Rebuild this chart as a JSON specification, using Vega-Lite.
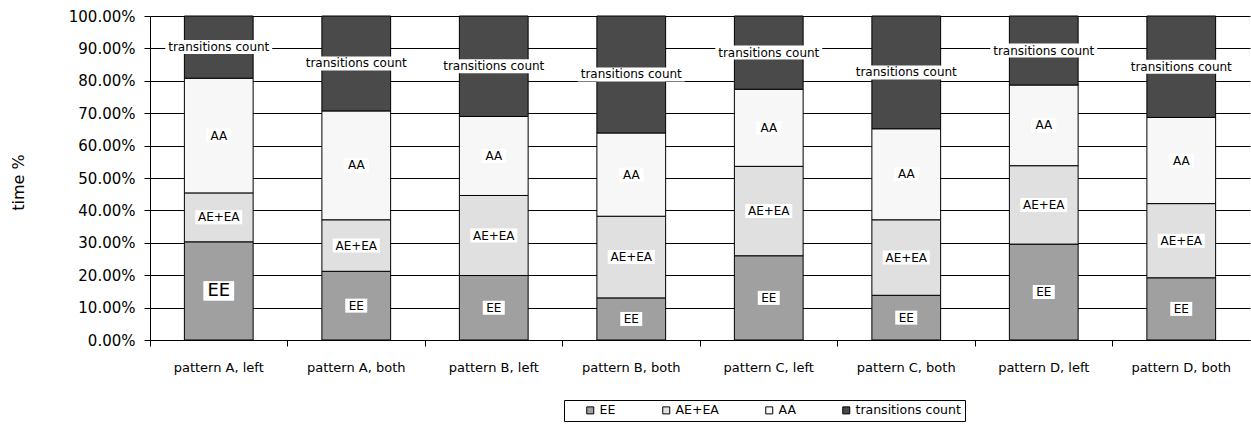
{
  "$schema": "https://vega.github.io/schema/vega-lite/v6.json",
  "width": 1100,
  "height": 324,
  "autosize": {"type": "none"},
  "padding": {"left": 150, "top": 16, "right": 1, "bottom": 86},
  "background": "white",
  "config": {
    "view": {"stroke": null},
    "font": "DejaVu Sans",
    "axis": {"labelFont": "DejaVu Sans", "titleFont": "DejaVu Sans", "labelColor": "#000", "titleColor": "#000", "domainColor": "#000", "tickColor": "#000", "titleFontWeight": "normal"},
    "legend": {"labelFont": "DejaVu Sans", "labelColor": "#000"}
  },
  "data": {
    "values": [
      {"pattern": "pattern A, left", "series": "EE", "value": 0.303},
      {"pattern": "pattern A, left", "series": "AE+EA", "value": 0.151},
      {"pattern": "pattern A, left", "series": "AA", "value": 0.354},
      {"pattern": "pattern A, left", "series": "transitions count", "value": 0.192},
      {"pattern": "pattern A, both", "series": "EE", "value": 0.212},
      {"pattern": "pattern A, both", "series": "AE+EA", "value": 0.159},
      {"pattern": "pattern A, both", "series": "AA", "value": 0.336},
      {"pattern": "pattern A, both", "series": "transitions count", "value": 0.293},
      {"pattern": "pattern B, left", "series": "EE", "value": 0.199},
      {"pattern": "pattern B, left", "series": "AE+EA", "value": 0.247},
      {"pattern": "pattern B, left", "series": "AA", "value": 0.244},
      {"pattern": "pattern B, left", "series": "transitions count", "value": 0.310},
      {"pattern": "pattern B, both", "series": "EE", "value": 0.130},
      {"pattern": "pattern B, both", "series": "AE+EA", "value": 0.252},
      {"pattern": "pattern B, both", "series": "AA", "value": 0.257},
      {"pattern": "pattern B, both", "series": "transitions count", "value": 0.361},
      {"pattern": "pattern C, left", "series": "EE", "value": 0.260},
      {"pattern": "pattern C, left", "series": "AE+EA", "value": 0.276},
      {"pattern": "pattern C, left", "series": "AA", "value": 0.238},
      {"pattern": "pattern C, left", "series": "transitions count", "value": 0.226},
      {"pattern": "pattern C, both", "series": "EE", "value": 0.138},
      {"pattern": "pattern C, both", "series": "AE+EA", "value": 0.233},
      {"pattern": "pattern C, both", "series": "AA", "value": 0.281},
      {"pattern": "pattern C, both", "series": "transitions count", "value": 0.348},
      {"pattern": "pattern D, left", "series": "EE", "value": 0.296},
      {"pattern": "pattern D, left", "series": "AE+EA", "value": 0.242},
      {"pattern": "pattern D, left", "series": "AA", "value": 0.249},
      {"pattern": "pattern D, left", "series": "transitions count", "value": 0.213},
      {"pattern": "pattern D, both", "series": "EE", "value": 0.192},
      {"pattern": "pattern D, both", "series": "AE+EA", "value": 0.229},
      {"pattern": "pattern D, both", "series": "AA", "value": 0.266},
      {"pattern": "pattern D, both", "series": "transitions count", "value": 0.313}
    ]
  },
  "transform": [
    {"calculate": "indexof(['EE','AE+EA','AA','transitions count'], datum.series)", "as": "ord"},
    {"stack": "value", "groupby": ["pattern"], "sort": [{"field": "ord", "order": "ascending"}], "as": ["v0", "v1"]},
    {"calculate": "(datum.v0 + datum.v1) / 2", "as": "mid"},
    {"calculate": "datum.series", "as": "lbl"}
  ],
  "encoding": {
    "x": {
      "field": "pattern",
      "type": "nominal",
      "sort": null,
      "scale": {"paddingInner": 0.5, "paddingOuter": 0.25},
      "axis": {"title": null, "labelAngle": 0, "labelFontSize": 13, "labelPadding": 15, "tickSize": 6, "bandPosition": -0.5, "domainWidth": 1, "tickWidth": 1}
    }
  },
  "resolve": {"scale": {"shape": "independent"}, "legend": {"shape": "independent"}},
  "layer": [
    {
      "mark": {"type": "bar", "stroke": "#000", "strokeWidth": 1, "opacity": 1},
      "encoding": {
        "y": {
          "field": "v0",
          "type": "quantitative",
          "scale": {"domain": [0, 1]},
          "axis": {
            "title": "time %",
            "titleFontSize": 16,
            "titleX": -132,
            "titleY": 166,
            "titleBaseline": "middle",
            "format": ".2%",
            "values": [0, 0.1, 0.2, 0.3, 0.4, 0.5, 0.6, 0.7, 0.8, 0.9, 1.0],
            "labelOverlap": false,
            "labelFontSize": 15,
            "labelPadding": 9,
            "tickSize": 6,
            "grid": true,
            "gridColor": "#000",
            "gridOpacity": 1,
            "gridWidth": 1
          }
        },
        "y2": {"field": "v1"},
        "color": {
          "field": "series",
          "type": "nominal",
          "scale": {
            "domain": ["EE", "AE+EA", "AA", "transitions count"],
            "range": ["#a0a0a0", "#e0e0e0", "#f7f7f7", "#4a4a4a"]
          },
          "legend": {
            "title": " ",
            "titleOrient": "left",
            "titlePadding": 16,
            "titleFontSize": 12.5,
            "orient": "none",
            "legendX": 414,
            "legendY": 384,
            "direction": "horizontal",
            "strokeColor": "#000",
            "padding": 4,
            "symbolType": "square",
            "symbolSize": 49,
            "symbolStrokeColor": "#000",
            "symbolStrokeWidth": 1,
            "symbolOpacity": 1,
            "labelFontSize": 12.5,
            "labelOffset": 3,
            "columnPadding": 44
          }
        }
      }
    },
    {
      "mark": {"type": "point", "filled": true, "opacity": 1, "strokeWidth": 0},
      "encoding": {
        "y": {
          "field": "mid",
          "type": "quantitative",
          "scale": {"domain": [0, 1]},
          "axis": {
            "title": "time %",
            "titleFontSize": 16,
            "titleX": -132,
            "titleY": 166,
            "titleBaseline": "middle",
            "format": ".2%",
            "values": [0, 0.1, 0.2, 0.3, 0.4, 0.5, 0.6, 0.7, 0.8, 0.9, 1.0],
            "labelOverlap": false,
            "labelFontSize": 15,
            "labelPadding": 9,
            "tickSize": 6,
            "grid": true,
            "gridColor": "#000",
            "gridOpacity": 1,
            "gridWidth": 1
          }
        },
        "color": {"value": "white"},
        "shape": {
          "field": "lbl",
          "type": "nominal",
          "scale": {
            "domain": ["EE", "AE+EA", "AA", "transitions count"],
            "range": ["M-1.1,-0.7H1.1V0.7H-1.1Z", "M-2.35,-0.7H2.35V0.7H-2.35Z", "M-1.25,-0.7H1.25V0.7H-1.25Z", "M-5.35,-0.7H5.35V0.7H-5.35Z"]
          },
          "legend": null
        },
        "size": {
          "condition": {"test": "datum.pattern === 'pattern A, left' && datum.series === 'EE'", "value": 784},
          "value": 400
        }
      }
    },
    {
      "mark": {"type": "text", "align": "center", "baseline": "middle", "font": "DejaVu Sans", "color": "#000"},
      "encoding": {
        "y": {
          "field": "mid",
          "type": "quantitative",
          "scale": {"domain": [0, 1]},
          "axis": {
            "title": "time %",
            "titleFontSize": 16,
            "titleX": -132,
            "titleY": 166,
            "titleBaseline": "middle",
            "format": ".2%",
            "values": [0, 0.1, 0.2, 0.3, 0.4, 0.5, 0.6, 0.7, 0.8, 0.9, 1.0],
            "labelOverlap": false,
            "labelFontSize": 15,
            "labelPadding": 9,
            "tickSize": 6,
            "grid": true,
            "gridColor": "#000",
            "gridOpacity": 1,
            "gridWidth": 1
          }
        },
        "text": {"field": "series"},
        "size": {
          "condition": {"test": "datum.pattern === 'pattern A, left' && datum.series === 'EE'", "value": 18},
          "value": 12
        }
      }
    }
  ]
}
